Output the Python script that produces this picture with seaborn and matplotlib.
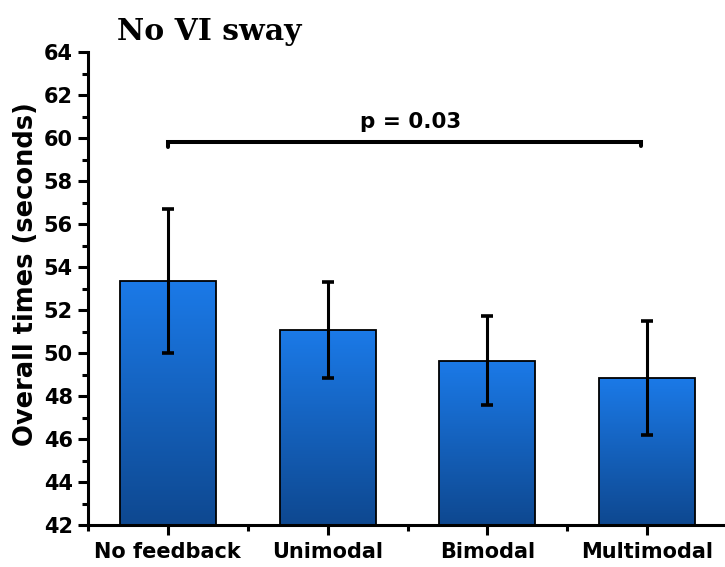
import numpy as np
import pandas as pd
import matplotlib
matplotlib.use("Agg")
import matplotlib.pyplot as plt
from matplotlib.colors import LinearSegmentedColormap
from matplotlib.ticker import MultipleLocator
import seaborn as sns

# Mean overall times and standard deviations per feedback condition
conditions = ["No feedback", "Unimodal", "Bimodal", "Multimodal"]
mean_times = [53.35, 51.07, 49.65, 48.85]
sd_times = [3.35, 2.22, 2.05, 2.65]
p_label = "p = 0.03"
compare_pair = [0, 3]
bracket_level = 59.82

df = pd.DataFrame({"condition": conditions, "time": mean_times, "sd": sd_times})

sns.set_theme(style="ticks")
plt.rcParams["font.family"] = ["DejaVu Sans"]
plt.rcParams["font.weight"] = "bold"

fig = plt.figure(figsize=(7.25, 5.67), dpi=100)
ax = fig.add_axes([88 / 725, 1 - 525 / 567, 639 / 725, 473 / 567])

sns.barplot(data=df, x="condition", y="time", errorbar=None, width=0.6,
            color="#1b7ae8", edgecolor="black", linewidth=1.3, ax=ax, zorder=2)

ymin, ymax = 42, 64
ax.set_ylim(ymin, ymax)
ax.set_xlim(-0.5, 3.5)

# vertical blue gradient inside each bar
grad_cmap = LinearSegmentedColormap.from_list("bluegrad", ["#0e4890", "#1b7ae8"])
grad = np.linspace(0, 1, 256).reshape(-1, 1)
for patch in ax.patches:
    x0 = patch.get_x()
    w = patch.get_width()
    top = patch.get_y() + patch.get_height()
    im = ax.imshow(grad, cmap=grad_cmap, origin="lower", aspect="auto",
                   extent=[x0, x0 + w, ymin, top], zorder=2.1)
    im.set_clip_path(patch)
    patch.set_facecolor("none")
    patch.set_zorder(2.2)
ax.set_ylim(ymin, ymax)
ax.set_xlim(-0.5, 3.5)

# error bars
ax.errorbar(np.arange(len(conditions)), mean_times, yerr=sd_times, fmt="none",
            ecolor="black", elinewidth=2.2, capsize=4, capthick=2.6, zorder=3)

# significance bracket
xa, xb = compare_pair[0], compare_pair[1] - 0.04
ax.plot([xa, xa, xb, xb], [bracket_level - 0.25, bracket_level, bracket_level, bracket_level - 0.2],
        color="black", lw=2.9, solid_joinstyle="miter", zorder=3, clip_on=False)
ax.text(1.52, 60.45, p_label, ha="center", va="baseline", fontsize=15.5,
        fontweight="bold", color="black")

# axes styling
sns.despine(ax=ax, top=True, right=True)
for side in ["left", "bottom"]:
    ax.spines[side].set_linewidth(2.2)
    ax.spines[side].set_color("black")

ax.yaxis.set_major_locator(MultipleLocator(2))
ax.yaxis.set_minor_locator(MultipleLocator(1))
ax.xaxis.set_minor_locator(MultipleLocator(1, offset=0.5))
ax.tick_params(axis="both", which="major", direction="out", length=7, width=2.2,
               color="black", labelsize=15, pad=5)
ax.tick_params(axis="both", which="minor", direction="out", length=4, width=2.2,
               color="black")
ax.tick_params(axis="y", which="major", pad=4)
for lab in ax.get_xticklabels() + ax.get_yticklabels():
    lab.set_fontweight("bold")
    lab.set_color("black")

ax.set_xlabel("")
ax.set_ylabel("Overall times (seconds)", fontsize=18.5, fontweight="bold",
              color="black")
ax.yaxis.set_label_coords(-0.076, 0.531)

fig.text(117 / 725, 1 - 40 / 567, "No VI sway", family="DejaVu Serif",
         fontsize=21.5, fontweight="bold", ha="left", va="baseline", color="black")

fig.savefig("out.png", dpi=100, facecolor="white")
